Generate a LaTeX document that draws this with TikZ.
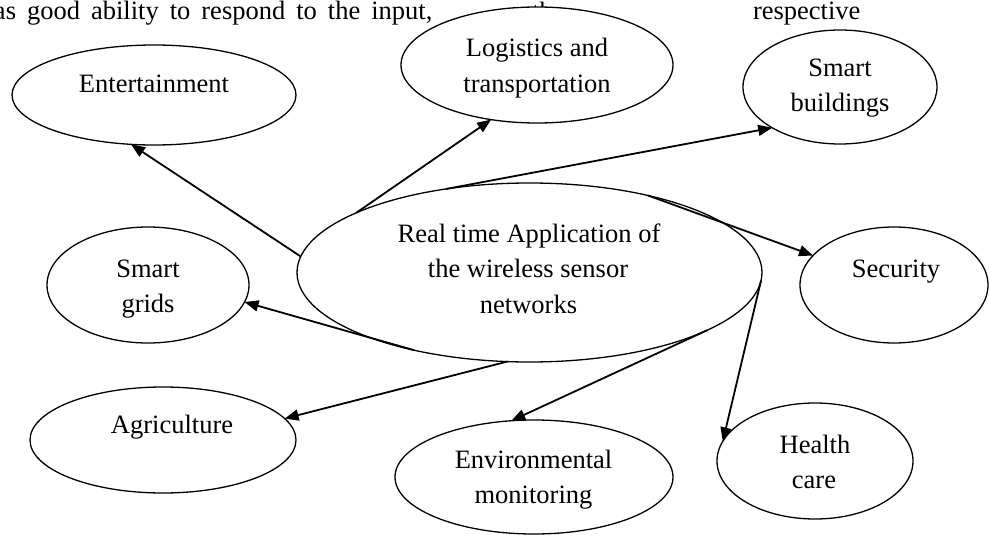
\documentclass[tikz,border=0pt]{standalone}
\usepackage{fontspec}
\setmainfont{Liberation Serif}
\usetikzlibrary{shapes.geometric,arrows.meta}
\begin{document}
\begin{tikzpicture}[x=1pt,y=-1pt,
  ell/.style={ellipse,draw,line width=1.3pt,fill=white,inner sep=0pt,outer sep=0pt},
  txt/.style={anchor=base,inner sep=0pt,outer sep=0pt,font=\fontsize{26.5}{36}\selectfont},
  arr/.style={line width=1.8pt,-{Triangle[length=14pt,width=11pt]}}]
\useasboundingbox (0,0) rectangle (989,535);
% running text of the page behind the figure
\node[txt,anchor=base west] (p1) at (-6,20) {\spaceskip=11pt\relax as good ability to respond to the input,};
\node[txt,anchor=base west] (p2) at (532,21) {the};
\node[txt,anchor=base west] (p3) at (753,20) {respective};
% ellipses
\node[ell,minimum width=284pt,minimum height=100pt] (ent) at (154,95) {};
\node[ell,minimum width=272pt,minimum height=116pt] (log) at (537,65) {};
\node[ell,minimum width=194pt,minimum height=114pt] (bld) at (840,87) {};
\node[ell,minimum width=188pt,minimum height=116pt] (sec) at (894,285) {};
\node[ell,minimum width=202pt,minimum height=116pt] (grd) at (148,285) {};
\node[ell,minimum width=266pt,minimum height=106pt] (agr) at (163,440) {};
\node[ell,minimum width=278pt,minimum height=114pt] (env) at (534,477) {};
\node[ell,minimum width=196pt,minimum height=116pt] (hlt) at (815,461) {};
\node[ell,minimum width=465pt,minimum height=179pt] (wsn) at (529.5,272.5) {};
% labels
\node[txt] (tent) at (154,93) {Entertainment};
\node[txt] (tlog1) at (537,57) {Logistics and};
\node[txt] (tlog2) at (537,93) {transportation};
\node[txt] (tbld1) at (840,77) {Smart};
\node[txt] (tbld2) at (840,112) {buildings};
\node[txt] (tsec) at (896,277.5) {Security};
\node[txt] (tgrd1) at (148,277.5) {Smart};
\node[txt] (tgrd2) at (148,312) {grids};
\node[txt] (tagr) at (172,433) {Agriculture};
\node[txt] (tenv1) at (533.5,468) {Environmental};
\node[txt] (tenv2) at (533.5,503) {monitoring};
\node[txt] (thlt1) at (815,453) {Health};
\node[txt] (thlt2) at (814,488) {care};
\node[txt] (twsn1) at (529,242) {Real time Application of};
\node[txt] (twsn2) at (528,277) {the wireless sensor};
\node[txt] (twsn3) at (528.5,313) {networks};
% connectors
\draw[arr] (wsn.176) -- (ent.245);
\draw[arr] (wsn.161) -- (log.230);
\draw[arr] (wsn.135.7) -- (bld.211.5);
\draw[arr] (wsn.33.5) -- (sec.160.5);
\draw[arr] (wsn.-2) -- (hlt.168.3);
\draw[arr] (wsn.-18.9) -- (env.112.1);
\draw[arr] (wsn.-104) -- (agr.10.1);
\draw[arr] (wsn.214.7) -- (grd.-10);
\end{tikzpicture}
\end{document}
